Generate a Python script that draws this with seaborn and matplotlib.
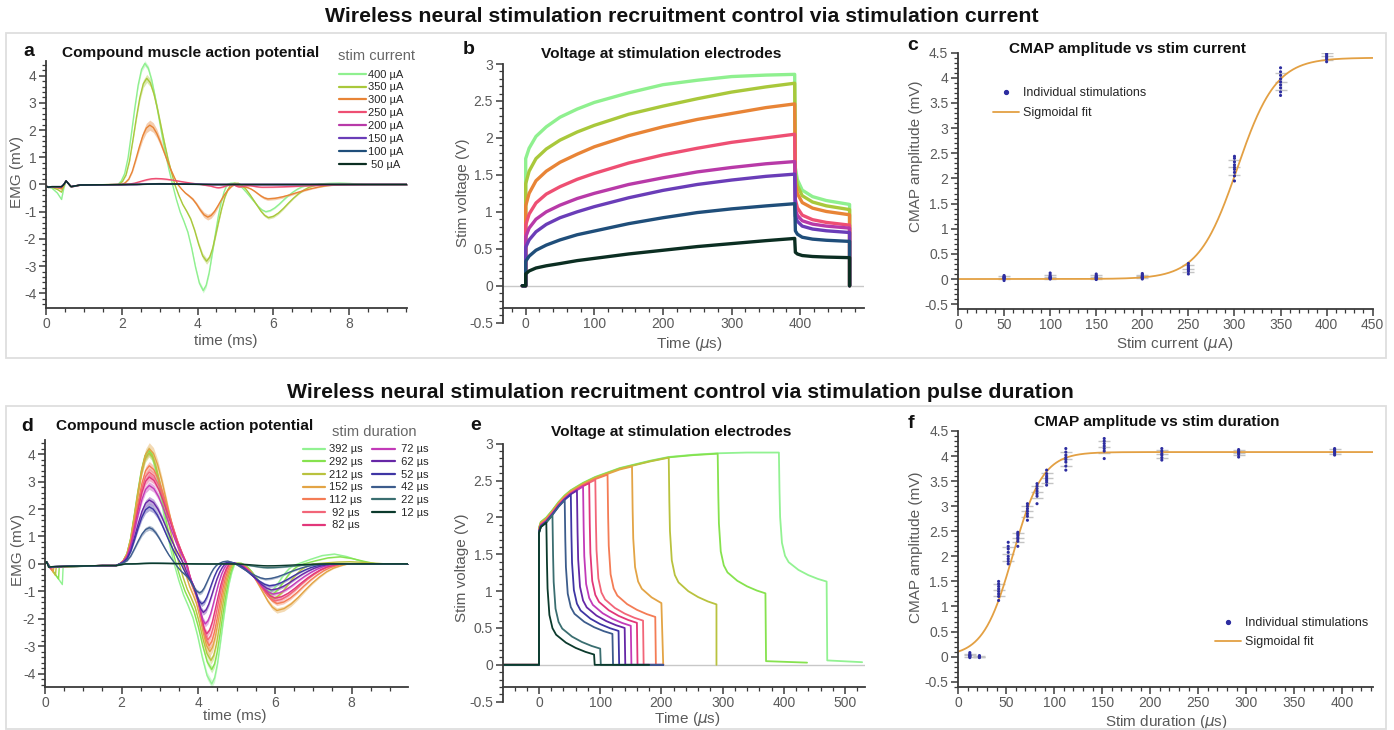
import numpy as np
import matplotlib
matplotlib.use("Agg")
import matplotlib.pyplot as plt
import matplotlib.ticker as mticker
from matplotlib.patches import Rectangle
from matplotlib.lines import Line2D
import seaborn as sns

sns.set_style("ticks")
plt.rcParams["font.family"] = ["Liberation Sans", "DejaVu Sans"]
plt.rcParams["axes.unicode_minus"] = False

W, H = 1394, 730

# ----------------------------------------------------------------- data: panel a (CMAP vs current)
A_LABELS = ["400 µA", "350 µA", "300 µA", "250 µA", "200 µA", "150 µA", "100 µA", " 50 µA"]
A_COLORS = ["#8FF08F", "#A9C83B", "#E88436", "#EE4F73", "#B83AA8", "#6A3DB8", "#1F4E7A", "#0B2E22"]
A_ONSET = [1.90, 1.93, 2.00, 2.00, 2.20, 2.20, 2.20, 2.20]
A_PEAK_T = [2.61, 2.66, 2.74, 2.90, 3.00, 3.00, 3.00, 3.00]
A_PEAK_V = [4.45, 3.90, 2.18, 0.22, 0.03, 0.03, 0.02, 0.02]
A_CROSS1 = [3.34, 3.40, 3.48, 4.10, 4.40, 4.40, 4.40, 4.40]
A_TROUGH_T = [4.15, 4.24, 4.27, 4.55, 4.60, 4.60, 4.60, 4.60]
A_TROUGH_V = [-3.90, -2.82, -1.20, -0.12, 0.0, 0.0, 0.0, 0.0]
A_CROSS2 = [4.78, 4.88, 4.98, 4.95, 4.80, 4.80, 4.80, 4.80]
A_HUMP_V = [0.08, 0.08, -0.06, -0.09, 0.0, 0.0, 0.0, 0.0]
A_TROUGH2_T = [5.80, 5.87, 5.85, 5.70, 6.00, 6.00, 6.00, 6.00]
A_TROUGH2_V = [-1.00, -1.22, -0.53, -0.10, 0.0, 0.0, 0.0, 0.0]
A_END_T = [7.00, 7.20, 7.80, 8.50, 7.00, 7.00, 7.00, 7.00]
A_LATE_V = [0.05, 0.0, 0.0, 0.0, 0.0, 0.0, 0.0, 0.0]
A_ART_DIP = [0.47, 0.20, 0.08, 0.03, 0.0, 0.0, 0.0, 0.0]
A_BAND = [0.02, 0.035, 0.08, 0.10, 0.04, 0.04, 0.04, 0.04]
A_ART_T = [0.0, 0.05, 0.15, 0.30, 0.41, 0.47, 0.53, 0.58, 0.66, 0.90]
A_ART_BASE = [-0.05, -0.10, -0.08, -0.08, -0.08, 0.0, 0.13, 0.05, -0.08, -0.02]
A_ART_SHAPE = [0.0, 0.0, 0.1, 0.5, 1.0, 0.3, 0.0, 0.0, 0.0, 0.0]

# ----------------------------------------------------------------- data: panel d (CMAP vs duration)
D_DUR = [392, 292, 212, 152, 112, 92, 82, 72, 62, 52, 42, 22, 12]
D_COLORS = ["#92F292", "#86E24E", "#B9C23E", "#E3A445", "#F47C55", "#F26578", "#E2377A",
            "#C23AB8", "#6627A6", "#3E35A4", "#3C5C8C", "#3A6E70", "#0B3A2C"]
D_ONSET = [1.95, 1.95, 1.95, 1.95, 1.95, 1.95, 1.95, 1.95, 1.95, 1.95, 1.95, 2.10, 2.10]
D_PEAK_T = [2.70, 2.70, 2.71, 2.72, 2.72, 2.72, 2.72, 2.72, 2.72, 2.72, 2.72, 2.80, 2.80]
D_PEAK_V = [4.10, 4.15, 4.05, 4.20, 3.58, 3.35, 3.17, 2.86, 2.33, 2.08, 1.32, 0.03, 0.02]
D_CROSS1 = [3.37, 3.42, 3.50, 3.60, 3.68, 3.70, 3.70, 3.68, 3.62, 3.55, 3.40, 4.00, 4.00]
D_TROUGH_T = [4.35, 4.35, 4.33, 4.30, 4.28, 4.25, 4.22, 4.18, 4.13, 4.09, 4.03, 4.30, 4.30]
D_TROUGH_V = [-4.38, -3.85, -3.52, -3.20, -2.98, -2.77, -2.55, -2.19, -1.77, -1.46, -1.06, -0.01, 0.0]
D_CROSS2 = [4.95, 4.93, 4.90, 4.88, 4.85, 4.82, 4.80, 4.75, 4.70, 4.62, 4.52, 4.70, 4.70]
D_HUMP_V = [0.05, 0.05, 0.05, 0.02, 0.03, 0.03, 0.04, 0.05, 0.07, 0.08, 0.12, 0.0, 0.0]
D_TROUGH2_T = [5.85, 5.90, 5.95, 6.05, 6.05, 6.00, 6.00, 5.95, 5.90, 5.85, 5.75, 5.80, 5.80]
D_TROUGH2_V = [-1.00, -1.10, -1.25, -1.70, -1.45, -1.35, -1.25, -1.10, -0.95, -0.80, -0.55, -0.14, -0.07]
D_END_T = [6.60, 6.75, 7.00, 7.90, 7.80, 7.70, 7.70, 7.60, 7.50, 7.40, 7.30, 7.50, 7.50]
D_LATE_V = [0.36, 0.26, 0.08, 0.0, 0.0, 0.0, 0.0, 0.0, 0.0, 0.0, 0.0, 0.0, 0.0]
D_ART_DIP = [0.75, 0.55, 0.42, 0.30, 0.22, 0.18, 0.16, 0.14, 0.12, 0.10, 0.08, 0.05, 0.03]
D_BAND = [0.03, 0.03, 0.035, 0.05, 0.04, 0.04, 0.04, 0.045, 0.05, 0.06, 0.06, 0.10, 0.10]

# normalised lobe shapes (fractions of each segment)
SEG_RISE = [0.0, 0.03, 0.09, 0.22, 0.42, 0.63, 0.82, 0.95, 1.0]
SEG_FALL = [1.0, 0.96, 0.86, 0.72, 0.56, 0.40, 0.25, 0.12, 0.0]
SEG_DOWN = [0.0, -0.14, -0.26, -0.35, -0.45, -0.60, -0.78, -0.93, -1.0]
SEG_UP = [-1.0, -0.95, -0.83, -0.66, -0.48, -0.31, -0.17, -0.07, 0.0]
SEG_T2 = [0.0, -0.01, -0.03, -0.08, -0.17, -0.30, -0.46, -0.63, -0.80, -0.93, -1.0]
SEG_HUMP = [0.0, 0.7, 1.0, 0.8, 0.45, 0.15, 0.0, 0.0, 0.0, 0.0, 0.0]
SEG_BACK = [-1.0, -0.96, -0.86, -0.72, -0.56, -0.41, -0.28, -0.17, -0.09, -0.04, 0.0]
SEG_LATE = [0.0, 0.45, 0.85, 1.0, 0.75, 0.35, 0.0]

# ----------------------------------------------------------------- data: panel b (voltage vs current)
B_T = [0, 5, 15, 30, 50, 75, 100, 150, 200, 250, 300, 350, 392]
B_V = [
    [1.72, 1.86, 2.02, 2.15, 2.28, 2.39, 2.48, 2.61, 2.72, 2.78, 2.83, 2.85, 2.86],
    [1.38, 1.55, 1.72, 1.85, 1.97, 2.08, 2.17, 2.32, 2.43, 2.53, 2.62, 2.69, 2.74],
    [1.08, 1.25, 1.42, 1.55, 1.67, 1.78, 1.88, 2.03, 2.15, 2.25, 2.33, 2.41, 2.46],
    [0.82, 0.97, 1.12, 1.24, 1.34, 1.44, 1.52, 1.66, 1.77, 1.86, 1.94, 2.00, 2.05],
    [0.66, 0.78, 0.90, 1.00, 1.09, 1.18, 1.25, 1.37, 1.46, 1.54, 1.60, 1.65, 1.68],
    [0.52, 0.62, 0.73, 0.83, 0.92, 1.00, 1.07, 1.19, 1.29, 1.37, 1.43, 1.48, 1.51],
    [0.33, 0.40, 0.48, 0.55, 0.62, 0.69, 0.74, 0.84, 0.92, 0.99, 1.04, 1.08, 1.11],
    [0.16, 0.20, 0.24, 0.27, 0.30, 0.34, 0.37, 0.43, 0.48, 0.53, 0.57, 0.61, 0.64],
]
B_END = [1.10, 1.03, 0.96, 0.82, 0.78, 0.72, 0.60, 0.38]
B_DECAY_DT = [0, 1, 4, 11, 26, 46, 80]
B_DECAY_FRAC = [1.0, 0.28, 0.19, 0.11, 0.06, 0.03, 0.0]

# ----------------------------------------------------------------- data: panel e (voltage vs duration)
E_ENV_T = [0, 3, 12, 22, 32, 42, 52, 62, 72, 82, 92, 112, 132, 152, 182, 212, 252, 292, 340, 392]
E_ENV_V = [1.82, 1.90, 1.96, 2.06, 2.17, 2.26, 2.33, 2.38, 2.43, 2.47, 2.51, 2.57, 2.63, 2.67,
           2.73, 2.78, 2.81, 2.83, 2.84, 2.84]
E_OFFSET = [0.04, 0.035, 0.03, 0.02, 0.01, 0.0, -0.005, -0.01, -0.015, -0.02, -0.025, -0.03, -0.03]
E_END = [1.13, 0.97, 0.82, 0.74, 0.65, 0.60, 0.57, 0.53, 0.50, 0.46, 0.42, 0.22, 0.14]
E_RESID = [0.06, 0.05, 0.0, 0.0, 0.0, 0.0, 0.0, 0.0, 0.0, 0.0, 0.0, 0.0, 0.0]
E_REC_END = [528, 438, 290, 203, 203, 203, 203, 203, 203, 203, 203, 180, 180]
E_DECAY_DT = [0, 1, 2, 5, 10, 16, 32, 48, 64, 78]
E_DECAY_FRAC = [1.0, 0.7, 0.5, 0.3, 0.2, 0.15, 0.09, 0.05, 0.02, 0.0]

# ----------------------------------------------------------------- data: panels c and f
C_CURRENT = [50, 100, 150, 200, 250, 300, 350, 400]
C_AMPLITUDE = [
    [-0.03, 0.0, 0.01, 0.02, 0.03, 0.04, 0.05, 0.07],
    [0.0, 0.01, 0.02, 0.03, 0.04, 0.05, 0.08, 0.12],
    [-0.01, 0.0, 0.02, 0.03, 0.04, 0.05, 0.07, 0.10],
    [0.0, 0.02, 0.03, 0.04, 0.05, 0.07, 0.09, 0.11],
    [0.10, 0.15, 0.18, 0.20, 0.22, 0.24, 0.27, 0.31],
    [1.95, 2.05, 2.12, 2.18, 2.22, 2.27, 2.33, 2.40, 2.44],
    [3.65, 3.72, 3.80, 3.86, 3.92, 3.98, 4.05, 4.12, 4.20],
    [4.32, 4.37, 4.40, 4.43, 4.46, 4.49, 4.52],
]
C_FIT = {"top": 4.40, "mid": 303.0, "scale": 21.0}

F_DURATION = [12, 22, 42, 52, 62, 72, 82, 92, 112, 152, 212, 292, 392]
F_AMPLITUDE = [
    [-0.02, 0.0, 0.01, 0.02, 0.03, 0.05, 0.08],
    [-0.02, -0.01, 0.0, 0.01, 0.02],
    [1.12, 1.20, 1.25, 1.30, 1.35, 1.40, 1.45, 1.50],
    [1.85, 1.90, 1.95, 2.00, 2.08, 2.15, 2.20, 2.28],
    [2.20, 2.30, 2.35, 2.38, 2.42, 2.45, 2.48],
    [2.72, 2.80, 2.85, 2.90, 2.95, 3.00, 3.05],
    [3.05, 3.20, 3.25, 3.30, 3.35, 3.40, 3.45],
    [3.42, 3.48, 3.52, 3.56, 3.60, 3.65, 3.72],
    [3.72, 3.80, 3.88, 3.93, 3.97, 4.02, 4.08, 4.15],
    [3.95, 4.10, 4.15, 4.20, 4.25, 4.30, 4.35],
    [3.92, 3.97, 4.02, 4.05, 4.10, 4.15],
    [3.98, 4.03, 4.06, 4.08, 4.10, 4.13],
    [4.02, 4.05, 4.08, 4.10, 4.13, 4.15],
]
F_FIT = {"top": 4.08, "mid": 57.0, "scale": 15.5}

DOT_COLOR = "#2D2DA0"
FIT_COLOR = "#E3A043"
SPINE = "#3a3a3a"
LABEL_GRAY = "#5a5a5a"

# ----------------------------------------------------------------- helpers
fig = plt.figure(figsize=(W / 100, H / 100), dpi=100)


def px_ax(l, t, r, b):
    return fig.add_axes([l / W, 1 - b / H, (r - l) / W, (b - t) / H])


def style_ax(ax, xmaj, xmin, ymaj, ymin):
    for s in ["top", "right"]:
        ax.spines[s].set_visible(False)
    for s in ["left", "bottom"]:
        ax.spines[s].set_color(SPINE)
        ax.spines[s].set_linewidth(1.3)
    ax.xaxis.set_major_locator(mticker.MultipleLocator(xmaj))
    ax.xaxis.set_minor_locator(mticker.MultipleLocator(xmin))
    ax.yaxis.set_major_locator(mticker.MultipleLocator(ymaj))
    ax.yaxis.set_minor_locator(mticker.MultipleLocator(ymin))
    ax.xaxis.set_major_formatter(mticker.FormatStrFormatter("%g"))
    ax.yaxis.set_major_formatter(mticker.FormatStrFormatter("%g"))
    ax.tick_params(which="major", direction="out", length=5, width=1.1, color=SPINE,
                   labelcolor=LABEL_GRAY, labelsize=10, pad=2)
    ax.tick_params(which="minor", direction="out", length=2.6, width=0.9, color=SPINE)
    ax.set_facecolor("none")


def set_labels(ax, xlabel, xpos, ylabel, ypos):
    ax.set_xlabel(xlabel, fontsize=11, color=LABEL_GRAY)
    ax.set_ylabel(ylabel, fontsize=11, color=LABEL_GRAY)
    ax.xaxis.set_label_coords(xpos[0] / W, 1 - (xpos[1] - 8) / H, transform=fig.transFigure)
    ax.yaxis.set_label_coords((ypos[0] + 8) / W, 1 - ypos[1] / H, transform=fig.transFigure)


def build_emg(art_t, art_v, onset, pk_t, pk_v, c1, tr_t, tr_v, c2, hump, tr2_t, tr2_v,
              end_t, late_v, late_len, t_max):
    t = list(art_t)
    v = list(art_v)

    def seg(shape, t0, t1, vals):
        fr = np.linspace(0.0, 1.0, len(shape))
        t.extend(list(t0 + fr * (t1 - t0)))
        v.extend(list(vals))

    seg(SEG_RISE, onset, pk_t, pk_v * np.array(SEG_RISE))
    seg(SEG_FALL, pk_t, c1, pk_v * np.array(SEG_FALL))
    seg(SEG_DOWN, c1, tr_t, abs(tr_v) * np.array(SEG_DOWN))
    seg(SEG_UP, tr_t, c2, abs(tr_v) * np.array(SEG_UP))
    seg(SEG_T2, c2, tr2_t, abs(tr2_v) * np.array(SEG_T2) + hump * np.array(SEG_HUMP))
    seg(SEG_BACK, tr2_t, end_t, abs(tr2_v) * np.array(SEG_BACK))
    seg(SEG_LATE, end_t, end_t + late_len, late_v * np.array(SEG_LATE))
    t.append(t_max)
    v.append(0.0)
    return np.array(t), np.array(v)


def draw_emg(ax, t, v, col, band_frac):
    band = band_frac * np.abs(v) + 0.012
    ax.fill_between(t, v - band, v + band, color=col, alpha=0.4, lw=0)
    sns.lineplot(x=t, y=v, ax=ax, color=col, lw=1.0, estimator=None, sort=False, legend=False)


# ----------------------------------------------------------------- frames and super-titles
for top, bot in [(33, 358), (406, 729)]:
    fig.add_artist(Rectangle((6 / W, 1 - bot / H), (1386 - 6) / W, (bot - top) / H,
                             transform=fig.transFigure, fill=False, edgecolor="#dedede", lw=1.3))
fig.text(682 / W, 1 - 17 / H, "Wireless neural stimulation recruitment control via stimulation current",
         ha="center", va="center", fontsize=15.3, fontweight="bold", color="#111111")
fig.text(680 / W, 1 - 392 / H, "Wireless neural stimulation recruitment control via stimulation pulse duration",
         ha="center", va="center", fontsize=15.3, fontweight="bold", color="#111111")

# ----------------------------------------------------------------- panel a
ax_a = px_ax(46, 60.7, 407, 307.7)
for i in range(len(A_LABELS)):
    art_v = np.array(A_ART_BASE) - A_ART_DIP[i] * np.array(A_ART_SHAPE)
    t, v = build_emg(A_ART_T, art_v, A_ONSET[i], A_PEAK_T[i], A_PEAK_V[i], A_CROSS1[i],
                     A_TROUGH_T[i], A_TROUGH_V[i], A_CROSS2[i], A_HUMP_V[i], A_TROUGH2_T[i],
                     A_TROUGH2_V[i], A_END_T[i], A_LATE_V[i], 1.5, 9.6)
    draw_emg(ax_a, t, v, A_COLORS[i], A_BAND[i])
ax_a.set_xlim(0, 9.53)
ax_a.set_ylim(-4.53, 4.55)
style_ax(ax_a, 2, 0.5, 1, 0.2)
set_labels(ax_a, "time (ms)", (226, 341.7), "EMG (mV)", (16, 171.7))
handles = [Line2D([0], [0], color=c, lw=1.6) for c in A_COLORS]
ax_a.legend(handles, A_LABELS, loc="upper left", bbox_to_anchor=(339 / W, 1 - 69.5 / H),
            bbox_transform=fig.transFigure, fontsize=8, frameon=False, handlelength=2.4,
            handletextpad=0.2, labelspacing=0.26, borderpad=0, borderaxespad=0)
fig.text(376 / W, 1 - 56 / H, "stim current", ha="center", va="center", fontsize=10.5, color="#666666")

# ----------------------------------------------------------------- panel d
ax_d = px_ax(45, 440, 408, 686.7)
for i in range(len(D_DUR)):
    dip_t = 0.06 + D_DUR[i] / 1000.0
    art_t = [0.0, 0.04, dip_t, dip_t + 0.02, dip_t + 0.12, 1.5, 1.85]
    art_v = [0.0, 0.08, -D_ART_DIP[i], -0.12, -0.10, -0.06, -0.06]
    t, v = build_emg(art_t, art_v, D_ONSET[i], D_PEAK_T[i], D_PEAK_V[i], D_CROSS1[i],
                     D_TROUGH_T[i], D_TROUGH_V[i], D_CROSS2[i], D_HUMP_V[i], D_TROUGH2_T[i],
                     D_TROUGH2_V[i], D_END_T[i], D_LATE_V[i], 1.9, 9.6)
    draw_emg(ax_d, t, v, D_COLORS[i], D_BAND[i])
ax_d.set_xlim(0, 9.47)
ax_d.set_ylim(-4.48, 4.52)
style_ax(ax_d, 2, 0.5, 1, 0.2)
set_labels(ax_d, "time (ms)", (235, 716.7), "EMG (mV)", (17, 550))
handles = [Line2D([0], [0], color=c, lw=1.6) for c in D_COLORS]
labels = [f"{d} µs" if d >= 100 else f" {d} µs" for d in D_DUR]
ax_d.legend(handles, labels, loc="upper left", bbox_to_anchor=(303 / W, 1 - 444.5 / H),
            bbox_transform=fig.transFigure, fontsize=8, frameon=False, ncol=2, handlelength=2.0,
            handletextpad=0.35, labelspacing=0.24, columnspacing=0.85, borderpad=0, borderaxespad=0)
fig.text(374.5 / W, 1 - 431.7 / H, "stim duration", ha="center", va="center", fontsize=10.5, color="#666666")

# ----------------------------------------------------------------- panel b
ax_b = px_ax(502.7, 64, 864, 322.7)
ax_b.axhline(0, color="#c8c8c8", lw=1, zorder=0)
for i in range(len(B_V)):
    t = [-5, 0] + B_T
    v = [0.0, 0.0] + B_V[i]
    top_v = B_V[i][-1]
    for dt, fr in zip(B_DECAY_DT, B_DECAY_FRAC):
        t.append(392 + dt)
        v.append(B_END[i] + (top_v - B_END[i]) * fr)
    t.append(472)
    v.append(0.0)
    sns.lineplot(x=np.array(t, float), y=np.array(v), ax=ax_b, color=A_COLORS[i], lw=2.4,
                 estimator=None, sort=False, legend=False)
ax_b.set_xlim(-33.5, 493)
ax_b.set_ylim(-0.5, 3)
style_ax(ax_b, 100, 20, 0.5, 0.1)
ax_b.spines["bottom"].set_position(("data", -0.295))
set_labels(ax_b, r"Time ($\mu$s)", (689, 343), "Stim voltage (V)", (461.7, 193))

# ----------------------------------------------------------------- panel e
ax_e = px_ax(502.7, 443.7, 865, 701.7)
ax_e.axhline(0, color="#c8c8c8", lw=1, zorder=0)
for i, dur in enumerate(D_DUR):
    t = [-60.0, 0.0]
    v = [0.0, 0.0]
    for et, ev in zip(E_ENV_T, E_ENV_V):
        if et <= dur:
            t.append(et)
            v.append(ev + E_OFFSET[i])
    top_v = v[-1]
    for dt, fr in zip(E_DECAY_DT, E_DECAY_FRAC):
        t.append(dur + dt)
        v.append(E_END[i] + (top_v - E_END[i]) * fr)
    t += [dur + 79, E_REC_END[i]]
    v += [E_RESID[i], E_RESID[i] * 0.6]
    t = np.array(t, float)
    v = np.array(v)
    keep = t <= E_REC_END[i]
    sns.lineplot(x=t[keep], y=v[keep], ax=ax_e, color=D_COLORS[i], lw=1.3,
                 estimator=None, sort=False, legend=False)
ax_e.set_xlim(-59.3, 532.7)
ax_e.set_ylim(-0.5, 3)
style_ax(ax_e, 100, 20, 0.5, 0.1)
ax_e.spines["bottom"].set_position(("data", -0.295))
set_labels(ax_e, r"Time ($\mu$s)", (687.5, 718), "Stim voltage (V)", (460.7, 568))


# ----------------------------------------------------------------- panels c and f
def amp_panel(ax, xs_cat, samples, fit, xmax):
    xs = [x for x, s in zip(xs_cat, samples) for _ in s]
    ys = [y for s in samples for y in s]
    means = [np.mean(s) for s in samples]
    sds = [np.std(s) for s in samples]
    ax.errorbar(xs_cat, means, yerr=sds, fmt="_", color="#c4c4c4", ecolor="#c4c4c4",
                elinewidth=1, capsize=4, capthick=1, ms=8, zorder=1)
    xf = np.linspace(0, xmax, 500)
    yf = fit["top"] / (1 + np.exp(-(xf - fit["mid"]) / fit["scale"]))
    sns.lineplot(x=xf, y=yf, ax=ax, color=FIT_COLOR, lw=1.3, estimator=None, sort=False,
                 legend=False, zorder=2)
    sns.scatterplot(x=xs, y=ys, ax=ax, color=DOT_COLOR, s=5, edgecolor="none", zorder=3, legend=False)
    handles = [Line2D([0], [0], marker="o", ls="", ms=2.8, color=DOT_COLOR),
               Line2D([0], [0], color=FIT_COLOR, lw=1.3)]
    return handles


ax_c = px_ax(958, 52.7, 1372.7, 308.7)
h = amp_panel(ax_c, C_CURRENT, C_AMPLITUDE, C_FIT, 450)
ax_c.set_xlim(0, 450)
ax_c.set_ylim(-0.59, 4.5)
style_ax(ax_c, 50, 10, 0.5, 0.1)
set_labels(ax_c, r"Stim current ($\mu$A)", (1175, 343.3), "CMAP amplitude (mV)", (915, 156.7))
ax_c.legend(h, ["Individual stimulations", "Sigmoidal fit"], loc="upper left",
            bbox_to_anchor=(993 / W, 1 - 87.5 / H), bbox_transform=fig.transFigure, fontsize=9,
            frameon=False, handlelength=2.1, handletextpad=0.3, labelspacing=0.6,
            borderpad=0, borderaxespad=0)

ax_f = px_ax(958.3, 431, 1373.3, 686.7)
h = amp_panel(ax_f, F_DURATION, F_AMPLITUDE, F_FIT, 432.3)
ax_f.set_xlim(0, 432.3)
ax_f.set_ylim(-0.6, 4.5)
style_ax(ax_f, 50, 10, 0.5, 0.1)
set_labels(ax_f, r"Stim duration ($\mu$s)", (1166.5, 721), "CMAP amplitude (mV)", (915, 547))
ax_f.legend(h, ["Individual stimulations", "Sigmoidal fit"], loc="upper left",
            bbox_to_anchor=(1215 / W, 1 - 617 / H), bbox_transform=fig.transFigure, fontsize=9,
            frameon=False, handlelength=2.1, handletextpad=0.3, labelspacing=0.6,
            borderpad=0, borderaxespad=0)

# ----------------------------------------------------------------- panel titles and letters
TITLES = [("Compound muscle action potential", 191, 53), ("Voltage at stimulation electrodes", 661, 54),
          ("CMAP amplitude vs stim current", 1127.5, 49), ("Compound muscle action potential", 184.5, 426),
          ("Voltage at stimulation electrodes", 671, 432), ("CMAP amplitude vs stim duration", 1157, 422)]
for txt, x, y in TITLES:
    fig.text(x / W, 1 - y / H, txt, ha="center", va="center", fontsize=11.1, fontweight="bold", color="#111111")
LETTERS = [("a", 29, 51), ("b", 469, 50), ("c", 913, 45), ("d", 27, 426), ("e", 476, 425), ("f", 911, 423)]
for txt, x, y in LETTERS:
    fig.text(x / W, 1 - y / H, txt, ha="center", va="center", fontsize=14, fontweight="bold", color="#111111")

fig.savefig("out.png", dpi=100)
